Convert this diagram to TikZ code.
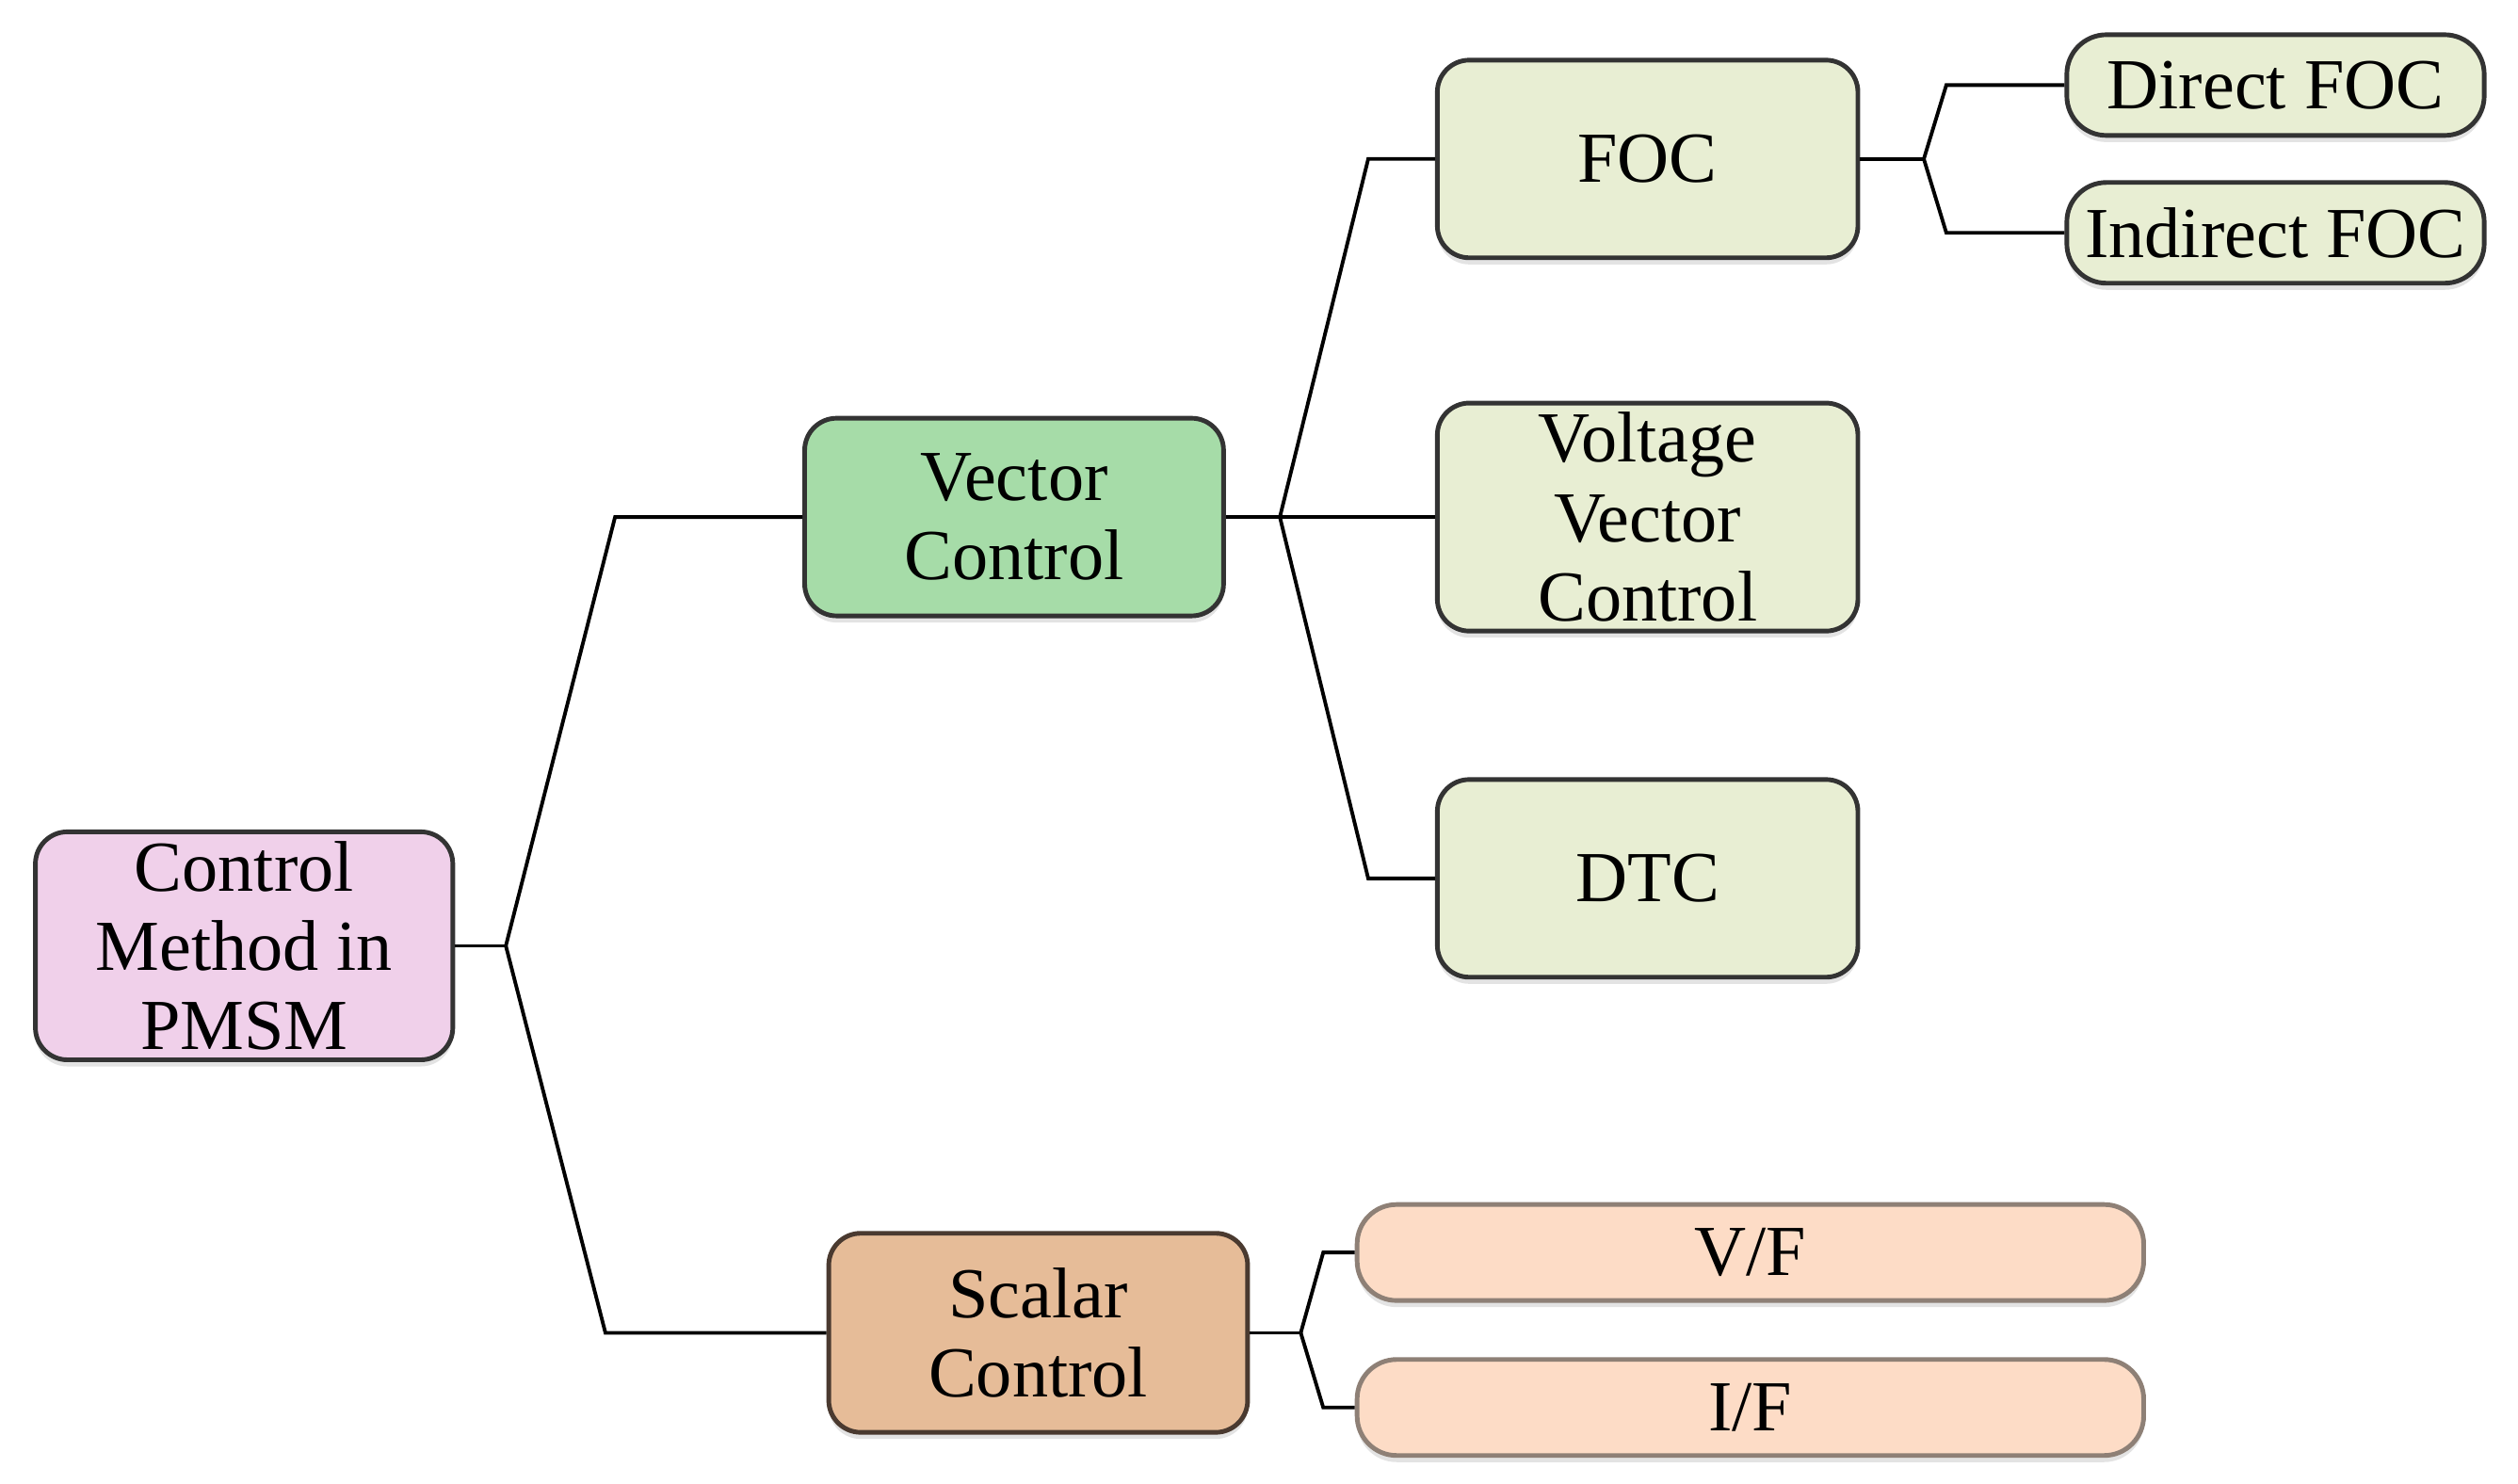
\documentclass[tikz,border=0pt]{standalone}
\usepackage{fontspec}
\setmainfont{Liberation Serif}
\usetikzlibrary{shadows}
\definecolor{rootfill}{HTML}{F0D0EA}
\definecolor{vecfill}{HTML}{A6DCA8}
\definecolor{leaffill}{HTML}{E8EED3}
\definecolor{scalfill}{HTML}{E6BC98}
\definecolor{peachfill}{HTML}{FDDCC6}
\definecolor{boxline}{HTML}{333333}
\definecolor{scalline}{HTML}{4A3A30}
\definecolor{peachline}{HTML}{8E8076}
\tikzset{
  base/.style={draw=boxline, line width=1.4pt, rounded corners=0.34cm, inner sep=0pt, align=center,
    font=\fontsize{21.7pt}{24pt}\selectfont,
    drop shadow={shadow xshift=0pt, shadow yshift=-2pt, opacity=0.22}},
  bigbox/.style={base, minimum width=4.45cm, minimum height=2.1cm},
  smallbox/.style={base, minimum width=4.434cm, minimum height=1.07cm, rounded corners=0.42cm},
  widebox/.style={base, draw=peachline, fill=peachfill, minimum width=8.356cm, minimum height=1.02cm, rounded corners=0.42cm},
  link/.style={line width=1.1pt, black}
}
\begin{document}
\begin{tikzpicture}[x=0.017054cm, y=-0.017054cm]
\useasboundingbox (0,0) rectangle (1568,923.6);
% nodes
\node[bigbox, fill=rootfill, minimum width=4.434cm, minimum height=2.422cm] (root) at (152,589) {Control\\Method in\\PMSM};
\node[bigbox, fill=vecfill] (vec) at (631.5,322) {Vector\\Control};
\node[bigbox, fill=scalfill, draw=scalline, minimum height=2.115cm] (scal) at (646.5,830) {Scalar\\Control};
\node[bigbox, fill=leaffill, minimum width=4.468cm] (foc) at (1026,99) {FOC};
\node[bigbox, fill=leaffill, minimum width=4.468cm, minimum height=2.422cm] (vvc) at (1026,322) {Voltage\\Vector\\Control};
\node[bigbox, fill=leaffill, minimum width=4.468cm] (dtc) at (1026,547) {DTC};
\node[smallbox, fill=leaffill] (dfoc) at (1417,53) {Direct FOC};
\node[smallbox, fill=leaffill] (ifoc) at (1417,145) {Indirect FOC};
\node[widebox] (vf) at (1090,780) {V/F};
\node[widebox] (if) at (1090,876.5) {I/F};
% junction and bend points
\coordinate (j1) at (315,589);
\coordinate (b1) at (383,322);
\coordinate (b2) at (377,830);
\coordinate (j2) at (797,322);
\coordinate (b3) at (852,99);
\coordinate (b4) at (852,547);
\coordinate (j3) at (1198,99);
\coordinate (b5) at (1212,53);
\coordinate (b6) at (1212,145);
\coordinate (j4) at (810,830);
\coordinate (b7) at (824,780);
\coordinate (b8) at (824,876.5);
% connectors
\draw[link] (root.east) -- (j1);
\draw[link] (j1) -- (b1) -- (vec.west);
\draw[link] (j1) -- (b2) -- (scal.west);
\draw[link] (vec.east) -- (j2);
\draw[link] (j2) -- (b3) -- (foc.west);
\draw[link] (j2) -- (vvc.west);
\draw[link] (j2) -- (b4) -- (dtc.west);
\draw[link] (foc.east) -- (j3);
\draw[link] (j3) -- (b5) -- (dfoc.west);
\draw[link] (j3) -- (b6) -- (ifoc.west);
\draw[link] (scal.east) -- (j4);
\draw[link] (j4) -- (b7) -- (vf.west);
\draw[link] (j4) -- (b8) -- (if.west);
\end{tikzpicture}
\end{document}
